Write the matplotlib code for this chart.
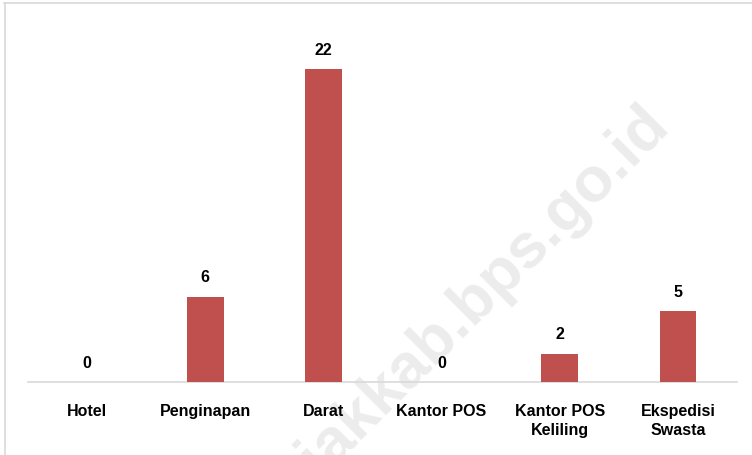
import matplotlib
matplotlib.use("Agg")
import matplotlib.pyplot as plt
from matplotlib.lines import Line2D

categories = ["Hotel", "Penginapan", "Darat", "Kantor POS", "Kantor POS\nKeliling", "Ekspedisi\nSwasta"]
values = [0, 6, 22, 0, 2, 5]
value_labels = ["0", "6", "22", "0", "2", "5"]

plt.rcParams['font.family'] = ['Liberation Sans Narrow', 'Liberation Sans', 'DejaVu Sans']

fig = plt.figure(figsize=(7.52, 4.56), dpi=100)
fig.patch.set_facecolor("white")

# watermark (anchored at the baseline end of the last letter)
wm = fig.text(672/752, 1 - 128/456, "siakkab.bps.go.id", rotation=45, ha="right", va="baseline",
              fontsize=45.5, fontweight="bold", color="#ECECEC", family=["Liberation Sans", "DejaVu Sans"],
              rotation_mode="anchor", zorder=-5)

ax = fig.add_axes([28/752, 73/456, 709/752, 363/456])
ax.set_facecolor("none")
x = list(range(len(categories)))
ax.bar(x, values, width=0.31, color="#C0504D", zorder=3)
ax.set_xlim(-0.5, 5.5)
ax.set_ylim(0, 25.5)
for xi, v, lab in zip(x, values, value_labels):
    ax.text(xi, v + 0.85, lab, ha="center", va="bottom", fontsize=11.5, fontweight="bold", color="black")

for s in ["top", "right", "left"]:
    ax.spines[s].set_visible(False)
ax.spines["bottom"].set_color("#D9D9D9")
ax.spines["bottom"].set_linewidth(1.2)
ax.set_yticks([])
ax.set_xticks(x)
ax.set_xticklabels(categories, fontsize=11.5, fontweight="bold", linespacing=1.35)
ax.tick_params(axis="x", length=0, pad=15)

# figure border (top and left)
fig.add_artist(Line2D([4/752, 1], [1 - 4/456, 1 - 4/456], transform=fig.transFigure, color="#D9D9D9", lw=1.2))
fig.add_artist(Line2D([4.5/752, 4.5/752], [0, 1 - 4/456], transform=fig.transFigure, color="#D9D9D9", lw=1.2))

fig.savefig("out.png", dpi=100)
